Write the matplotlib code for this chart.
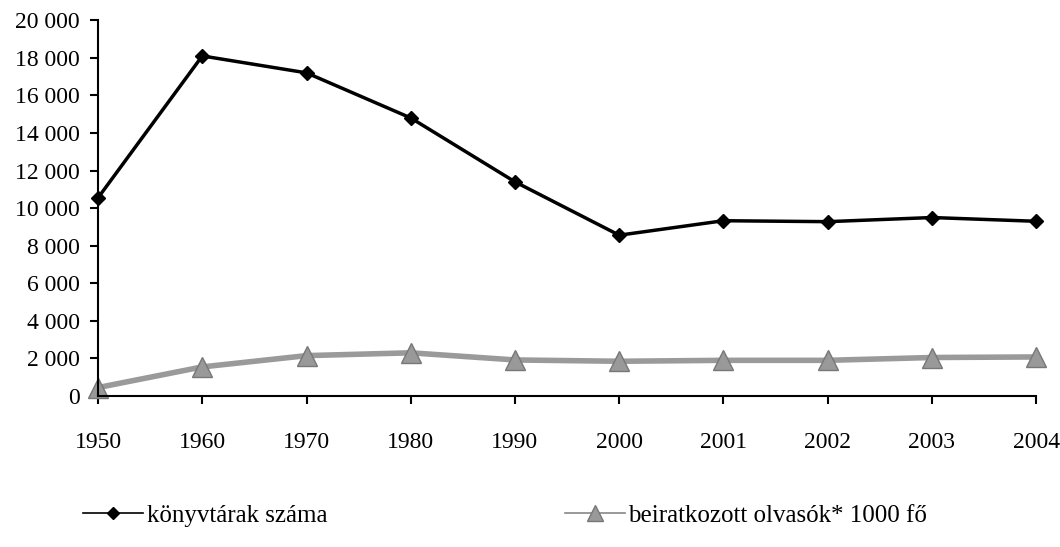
import numpy as np
import matplotlib.pyplot as plt
from matplotlib.ticker import FuncFormatter
from matplotlib.lines import Line2D

years = ['1950', '1960', '1970', '1980', '1990', '2000', '2001', '2002', '2003', '2004']
konyvtarak = [10550, 18100, 17200, 14800, 11400, 8560, 9330, 9280, 9500, 9300]
olvasok = [450, 1550, 2150, 2300, 1920, 1850, 1900, 1900, 2050, 2080]

plt.rcParams['font.family'] = 'Liberation Serif'

fig = plt.figure(figsize=(10.6, 5.47), dpi=100)
ax = fig.add_axes([0.0925, 0.276, 0.885, 0.687])

x = np.arange(len(years))
ax.plot(x, konyvtarak, color='black', lw=2.5, marker='D', ms=7, zorder=3)
ax.plot(x, olvasok, color='#9a9a9a', lw=4, marker='^', ms=14,
        markerfacecolor='#999999', markeredgecolor='#777777', zorder=2)

ax.set_xlim(0, len(years) - 1)
ax.set_ylim(0, 20000)
ax.set_xticks(x)
ax.set_xticklabels(years)
ax.set_yticks(np.arange(0, 20001, 2000))
ax.yaxis.set_major_formatter(FuncFormatter(lambda v, p: f'{int(v):,}'.replace(',', ' ')))

for s in ['top', 'right']:
    ax.spines[s].set_visible(False)
for s in ['left', 'bottom']:
    ax.spines[s].set_linewidth(1.5)
ax.tick_params(axis='both', labelsize=17, width=1.5, length=6, direction='out')
ax.tick_params(axis='x', pad=20)
ax.tick_params(axis='y', pad=7)
for ln in ax.lines:
    ln.set_clip_on(False)

h1 = Line2D([], [], color='black', lw=1.2, marker='D', ms=6)
h2 = Line2D([], [], color='#888888', lw=1.2, marker='^', ms=12,
            markerfacecolor='#999999', markeredgecolor='#777777')
fig.legend([h1, h2], ['könyvtárak száma', 'beiratkozott olvasók* 1000 fő'],
           loc='center left', bbox_to_anchor=(0.057, 0.058), ncol=2, frameon=False,
           fontsize=18, handlelength=2.4, handletextpad=0.15, columnspacing=9.5)

fig.savefig('out.png', dpi=100, facecolor='white')
